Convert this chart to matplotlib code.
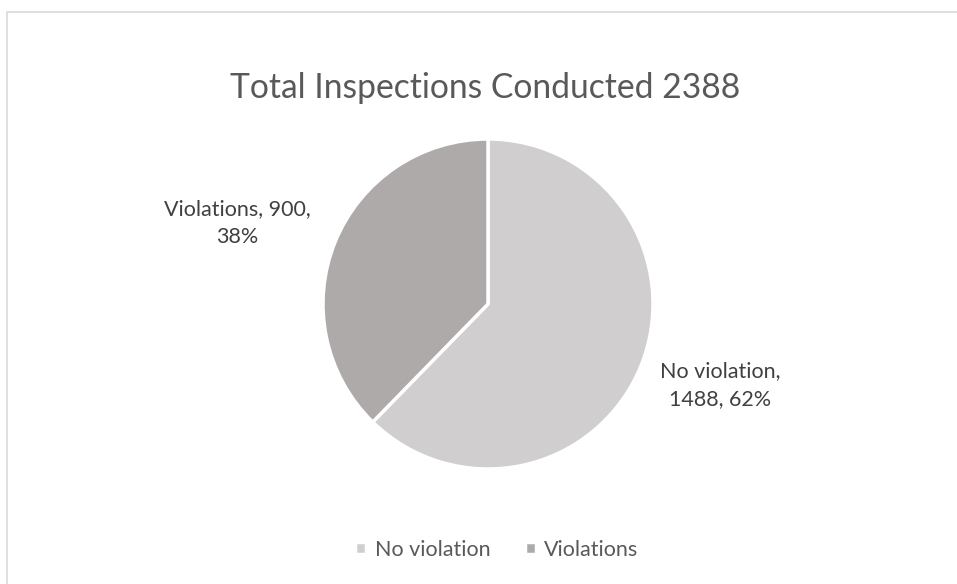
import matplotlib.pyplot as plt
from matplotlib.patches import Rectangle

# Data
labels = ["No violation", "Violations"]
counts = [1488, 900]
colors = ["#D0CECE", "#AEAAAA"]
total = sum(counts)

plt.rcParams["font.family"] = ["Lato", "DejaVu Sans"]

W, H = 957, 584
fig = plt.figure(figsize=(W / 100, H / 100), dpi=100)

# chart-area border (light gray), running off the right/bottom edge
fig.patches.append(Rectangle((7 / W, -0.1), 1.2, 1 - 11.5 / H + 0.1, transform=fig.transFigure,
                             fill=False, edgecolor="#D9D9D9", linewidth=1.2))

# pie axes: center (488, 304), radius 165 px
cx, cy, r = 488, 304, 165
ax = fig.add_axes([(cx - r) / W, 1 - (cy + r) / H, 2 * r / W, 2 * r / H])
wedges, _ = ax.pie(counts, colors=colors, startangle=90, counterclock=False,
                   wedgeprops=dict(edgecolor="white", linewidth=2.5))
ax.set_xlim(-1, 1)
ax.set_ylim(-1, 1)
ax.set_aspect("equal")

fig.text(485 / W, 1 - 88 / H, "Total Inspections Conducted %d" % total,
         ha="center", va="center", fontsize=24.2, color="#595959")

pcts = [round(c / total * 100) for c in counts]
fig.text(720 / W, 1 - 385 / H, "%s,\n%d, %d%%" % (labels[0], counts[0], pcts[0]),
         ha="center", va="center", fontsize=15.5, color="#404040", linespacing=1.5)
fig.text(237 / W, 1 - 223 / H, "%s, %d,\n%d%%" % (labels[1], counts[1], pcts[1]),
         ha="center", va="center", fontsize=15.5, color="#404040", linespacing=1.5)

fig.legend(wedges, labels, loc="center", bbox_to_anchor=(497 / W, 1 - 550 / H), ncol=2,
           frameon=False, fontsize=15.5, labelcolor="#595959", handlelength=0.5, handleheight=0.5,
           handletextpad=0.4, columnspacing=1.6)

fig.savefig("out.png", dpi=100)
